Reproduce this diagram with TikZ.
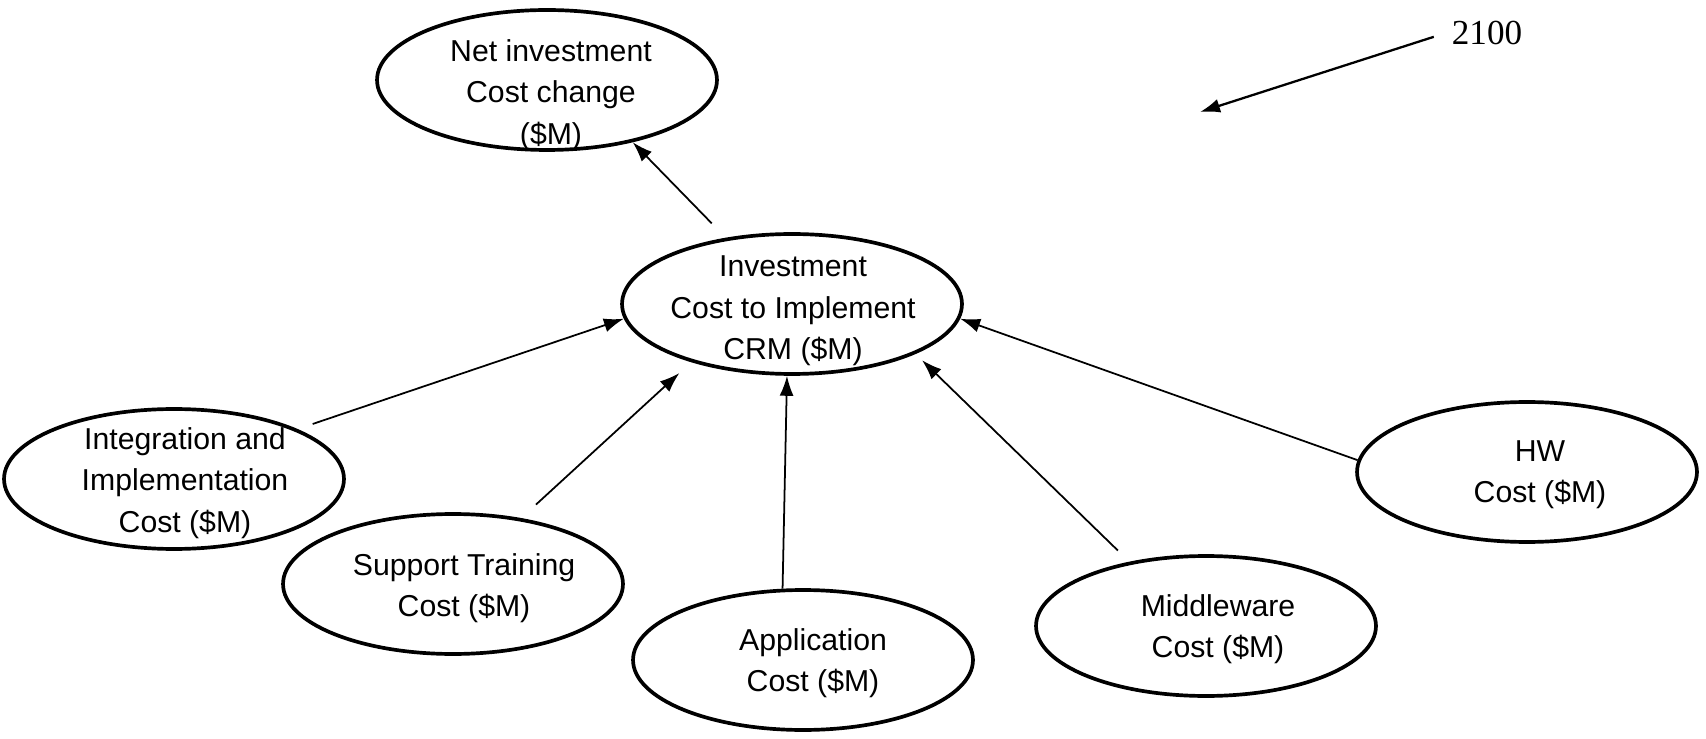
\documentclass[tikz,border=0pt]{standalone}
\usepackage{fontspec}
\setmainfont{Liberation Sans}
\newfontfamily\figfont{Liberation Serif}
\usetikzlibrary{shapes, arrows.meta}

\begin{document}
\begin{tikzpicture}[x=0.02cm, y=-0.02cm,
	oval/.style={draw, ellipse, line width=2.1pt, minimum width=6.8cm, minimum height=2.8cm, inner sep=0pt},
	txt/.style={align=center, inner sep=0pt, font=\fontsize{17.2}{23.6}\selectfont},
	arr/.style={-{Latex[length=0.4cm, width=0.28cm]}, line width=1pt}]
	\useasboundingbox (0,0) rectangle (1706,739);

	% the ovals
	\node[oval] (net)   at (547,80)   {};
	\node[oval] (inv)   at (792,304)  {};
	\node[oval] (integ) at (174,479)  {};
	\node[oval] (supp)  at (453,584)  {};
	\node[oval] (appl)  at (803,660)  {};
	\node[oval] (midw)  at (1206,626) {};
	\node[oval] (hw)    at (1527,472) {};

	% their texts
	\node[txt] (net-t)   at ([shift={(4,15)}]net)   {Net investment\\Cost change\\(\$M)};
	\node[txt] (inv-t)   at ([shift={(1,7)}]inv)    {Investment\\Cost to Implement\\CRM (\$M)};
	\node[txt] (integ-t) at ([shift={(11,4)}]integ) {Integration and\\Implementation\\Cost (\$M)};
	\node[txt] (supp-t)  at ([shift={(11,4)}]supp)  {Support Training\\Cost (\$M)};
	\node[txt] (appl-t)  at ([shift={(10,3)}]appl)  {Application\\Cost (\$M)};
	\node[txt] (midw-t)  at ([shift={(12,3)}]midw)  {Middleware\\Cost (\$M)};
	\node[txt] (hw-t)    at ([shift={(13,3)}]hw)    {HW\\Cost (\$M)};

	\draw[arr, shorten <=0.4cm] (inv.135) -- (net.-36);
	\draw[arr, shorten <=0.32cm] (integ.22) -- (inv.185);
	\draw[arr, shorten <=0.4cm, shorten >=0.32cm] (supp.44) -- (inv.210);
	\draw[arr] (appl.106) -- (inv.-94);
	\draw[arr, shorten <=0.32cm, shorten >=0.18cm] (midw.140) -- (inv.-22);
	\draw[arr] (hw.176) -- (inv.-5);

	% figure number
	\node[font=\figfont\fontsize{20}{24}\selectfont] (fig) at (1487,33) {2100};
	\coordinate (fig-tip) at (1200,112);
	\draw[arr, line width=1.3pt, shorten <=0.25cm] (fig.west) -- (fig-tip);
\end{tikzpicture}
\end{document}
